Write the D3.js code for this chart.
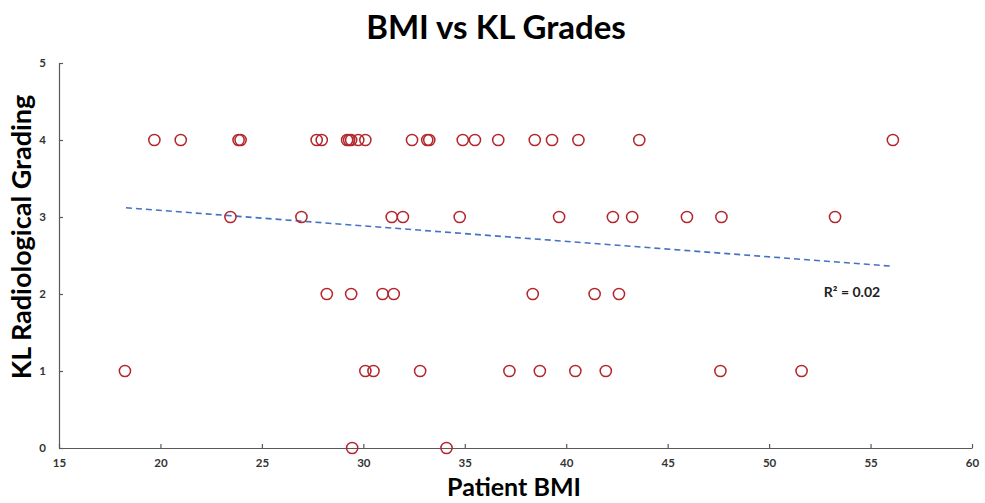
<!DOCTYPE html>
<html><head><meta charset="utf-8">
<script src="https://cdn.jsdelivr.net/npm/d3@7"></script>
<style>body{margin:0;background:#fff}svg{display:block}</style>
</head><body><svg id="c" width="985" height="503"></svg>
<script>
const bmi = [
  19.7,21.0,23.85,23.95,27.7,27.95,29.2,29.3,29.4,29.75,30.1,32.4,33.15,33.25,34.9,35.5,36.65,38.45,39.3,40.6,43.6,56.1,
  23.45,26.95,31.4,31.95,34.75,39.65,42.3,43.25,45.95,47.65,53.25,
  28.2,29.4,30.95,31.5,38.35,41.4,42.6,
  18.25,30.1,30.5,32.8,37.2,38.7,40.45,41.95,47.6,51.6,
  29.45,34.1
];
const kl = [
  4,4,4,4,4,4,4,4,4,4,4,4,4,4,4,4,4,4,4,4,4,4,
  3,3,3,3,3,3,3,3,3,3,3,
  2,2,2,2,2,2,2,
  1,1,1,1,1,1,1,1,1,1,
  0,0
];
const xTicks = [15,20,25,30,35,40,45,50,55,60];
const yTicks = [0,1,2,3,4,5];
const trendX = [18.3, 56.1];
const trendY = [3.12, 2.36];
const r2Label = "R² = 0.02";

const svg = d3.select("#c");
const x = d3.scaleLinear().domain([15,60]).range([59,972]);
const y = d3.scaleLinear().domain([0,5]).range([448,63]);
const axisColor = "#595959";
const tickFont = "Lato, 'Open Sans', sans-serif";

const gx = svg.append("g").attr("transform","translate(0,448)")
  .call(d3.axisBottom(x).tickValues(xTicks).tickFormat(d3.format("d")).tickSize(-4).tickPadding(11).tickSizeOuter(0));
const gy = svg.append("g").attr("transform","translate(59,0)")
  .call(d3.axisLeft(y).tickValues(yTicks).tickFormat(d3.format("d")).tickSize(-4).tickPadding(13).tickSizeOuter(0));
[gx,gy].forEach(g=>{
  g.selectAll("path,line").attr("stroke",axisColor).attr("stroke-width",1.2);
  g.selectAll("text").attr("fill","#333").style("font-family",tickFont).style("font-weight","700").style("font-size","11.5px");
});

// trend line
svg.append("path")
  .attr("d", d3.line()(trendX.map((v,i)=>[x(v), y(trendY[i])])))
  .attr("stroke","#4472c4").attr("stroke-width",1.6).attr("stroke-dasharray","6,4").attr("fill","none");

// points
svg.append("g").selectAll("circle").data(bmi).join("circle")
  .attr("cx",d=>x(d)).attr("cy",(d,i)=>y(kl[i])).attr("r",5.6)
  .attr("fill","none").attr("stroke","#b3262c").attr("stroke-width",1.5);

svg.append("text").attr("x",852).attr("y",297).attr("text-anchor","middle")
  .style("font-family",tickFont).style("font-weight","700").style("font-size","14px").attr("fill","#222")
  .text(r2Label);

svg.append("text").attr("x",496).attr("y",39).attr("text-anchor","middle")
  .style("font-family",tickFont).style("font-weight","700").style("font-size","33px").attr("fill","#000")
  .text("BMI vs KL Grades");
svg.append("text").attr("x",514).attr("y",496).attr("text-anchor","middle")
  .style("font-family",tickFont).style("font-weight","700").style("font-size","25px").attr("fill","#000")
  .text("Patient BMI");
svg.append("text").attr("transform","translate(31,237) rotate(-90)").attr("text-anchor","middle")
  .style("font-family",tickFont).style("font-weight","700").style("font-size","27px").attr("fill","#000")
  .text("KL Radiological Grading");
</script></body></html>
